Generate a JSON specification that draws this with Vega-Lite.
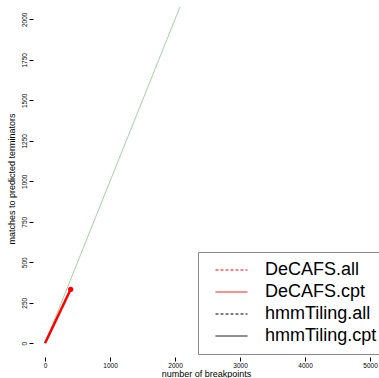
{
  "$schema": "https://vega.github.io/schema/vega-lite/v6.json",
  "autosize": {"type": "none"},
  "padding": {"left": 33, "top": 0, "right": 0, "bottom": 21},
  "width": 346,
  "height": 357,
  "background": "white",
  "config": {
    "view": {"stroke": null},
    "font": "Liberation Sans",
    "axis": {"grid": false, "domain": false, "tickColor": "black", "tickSize": 4, "labelColor": "black", "labelFontSize": 6.5, "titleColor": "black", "titleFontSize": 9, "titleFontWeight": "normal", "labelFont": "Liberation Sans", "titleFont": "Liberation Sans", "format": "d"},
    "legend": {"orient": "none", "legendX": 165, "legendY": 252, "symbolType": "stroke", "symbolSize": 1024, "symbolStrokeWidth": 1, "symbolOffset": 10, "clipHeight": 22, "labelFontSize": 18, "labelFont": "Liberation Sans", "labelColor": "black", "labelOffset": 17, "padding": 7, "strokeColor": "#888888", "fillColor": "white", "rowPadding": 0, "symbolOpacity": 1}
  },
  "datasets": {
    "curves": [
      {"series": "DeCAFS.cpt", "breakpoints": 0, "matches": 0},
      {"series": "DeCAFS.cpt", "breakpoints": 395, "matches": 333}
    ],
    "diagonal": [
      {"breakpoints": 0, "matches": 0},
      {"breakpoints": 2077, "matches": 2077}
    ],
    "ends": [
      {"breakpoints": 395, "matches": 333}
    ]
  },
  "layer": [
    {
      "data": {"name": "diagonal"},
      "mark": {"type": "line", "color": "#a3d2a3", "strokeWidth": 1},
      "encoding": {
        "x": {"field": "breakpoints", "type": "quantitative", "scale": {"domain": [-185, 5138], "nice": false, "zero": false},
          "axis": {"values": [0, 1000, 2000, 3000, 4000, 5000], "title": "number of breakpoints", "labelPadding": 1, "titlePadding": 1, "labelFlush": false}},
        "y": {"field": "matches", "type": "quantitative", "scale": {"domain": [-85, 2119], "nice": false, "zero": false},
          "axis": {"values": [0, 250, 500, 750, 1000, 1250, 1500, 1750, 2000], "title": "matches to predicted terminators", "labelAngle": -90, "labelAlign": "center", "labelBaseline": "bottom", "labelPadding": 2, "titlePadding": 5, "labelFlush": false}}
      }
    },
    {
      "data": {"name": "curves"},
      "mark": {"type": "line", "strokeWidth": 2.5},
      "encoding": {
        "x": {"field": "breakpoints", "type": "quantitative"},
        "y": {"field": "matches", "type": "quantitative"},
        "color": {"field": "series", "type": "nominal",
          "scale": {"domain": ["DeCAFS.all", "DeCAFS.cpt", "hmmTiling.all", "hmmTiling.cpt"], "range": ["#ff0000", "#ff0000", "#000000", "#000000"]},
          "legend": {"title": null, "encode": {"symbols": {"update": {"stroke": {"scale": "color", "field": "value"}, "strokeDash": {"signal": "test(/all$/, datum.value) ? [3, 2] : [1, 0]"}}}}}},
        "strokeDash": {"field": "series", "type": "nominal",
          "scale": {"domain": ["DeCAFS.all", "DeCAFS.cpt", "hmmTiling.all", "hmmTiling.cpt"], "range": [[3, 2], [1, 0], [3, 2], [1, 0]]},
          "legend": null}
      }
    },
    {
      "data": {"name": "ends"},
      "mark": {"type": "circle", "color": "#ff0000", "opacity": 1, "size": 28},
      "encoding": {
        "x": {"field": "breakpoints", "type": "quantitative"},
        "y": {"field": "matches", "type": "quantitative"}
      }
    },
    {
      "mark": {"type": "rule", "color": "black", "strokeWidth": 1},
      "encoding": {"x": {"datum": 0}, "x2": {"datum": 5000}, "y": {"datum": -85}}
    },
    {
      "mark": {"type": "rule", "color": "black", "strokeWidth": 1},
      "encoding": {"x": {"datum": -185}, "y": {"datum": 0}, "y2": {"datum": 2000}}
    }
  ]
}
